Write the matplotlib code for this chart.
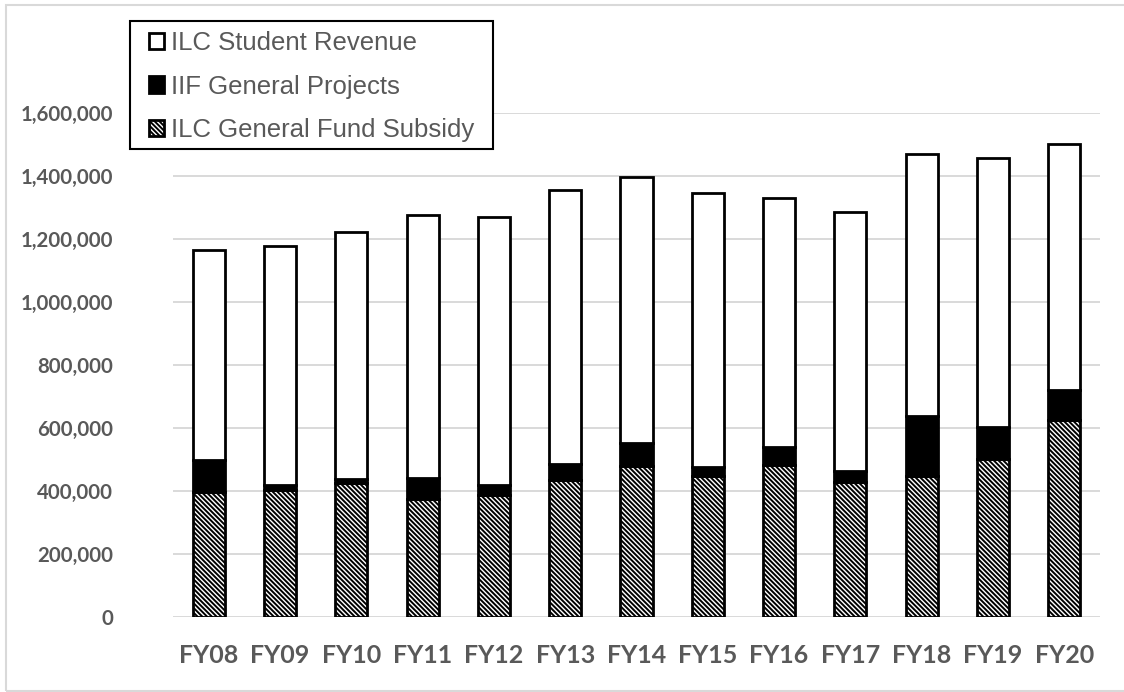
import numpy as np
import matplotlib
matplotlib.use("Agg")
import matplotlib.pyplot as plt
from matplotlib.patches import Rectangle

# values
years = ["FY08", "FY09", "FY10", "FY11", "FY12", "FY13", "FY14",
         "FY15", "FY16", "FY17", "FY18", "FY19", "FY20"]
gf_subsidy = [398000, 405000, 426000, 374000, 387000, 435000, 479000,
              450000, 484000, 431000, 449000, 503000, 625000]
iif_projects = [101000, 16000, 13000, 69000, 33000, 53000, 73000,
                28000, 58000, 32000, 191000, 101000, 98000]
student_rev = [667000, 759000, 785000, 834000, 852000, 869000, 847000,
               869000, 788000, 823000, 830000, 853000, 781000]
yticks = [0, 200000, 400000, 600000, 800000, 1000000, 1200000, 1400000, 1600000]

plt.rcParams["hatch.linewidth"] = 1.4

W, H = 1124, 692
fig = plt.figure(figsize=(W / 100, H / 100), dpi=100)
ax = fig.add_axes([173 / W, 1 - 617.3 / H, (1100 - 173) / W, (617.3 - 113.3) / H])

x = np.arange(len(years))
sub = np.array(gf_subsidy)
iif = np.array(iif_projects)
stu = np.array(student_rev)
bw = 0.45
edge = dict(edgecolor="black", linewidth=2.0, zorder=3)
hatch = "\\" * 7

b_sub = ax.bar(x, sub, bw, color="white", hatch=hatch, **edge,
               label="ILC General Fund Subsidy")
b_iif = ax.bar(x, iif, bw, bottom=sub, color="black", **edge,
               label="IIF General Projects")
b_stu = ax.bar(x, stu, bw, bottom=sub + iif, color="white", **edge,
               label="ILC Student Revenue")

ax.set_xlim(-0.5, len(years) - 0.5)
ax.set_ylim(0, 1600000)
ax.set_yticks(yticks)
ax.set_yticklabels([f"{v:,}" for v in yticks])
ax.set_xticks(x)
ax.set_xticklabels(years)
ax.grid(axis="y", color="#d9d9d9", linewidth=1.4, zorder=0)
ax.set_axisbelow(True)
for s in ax.spines.values():
    s.set_visible(False)
ax.tick_params(length=0)
ax.tick_params(axis="y", pad=43)
ax.tick_params(axis="x", pad=19)
for lab in ax.get_yticklabels():
    lab.set_fontfamily(["Lato", "DejaVu Sans"])
    lab.set_fontweight("bold")
    lab.set_fontsize(14.7)
    lab.set_color("#595959")
for lab in ax.get_xticklabels():
    lab.set_fontfamily(["Lato", "DejaVu Sans"])
    lab.set_fontweight("bold")
    lab.set_fontsize(18)
    lab.set_color("#595959")

leg = fig.legend([b_stu, b_iif, b_sub],
                 ["ILC Student Revenue", "IIF General Projects", "ILC General Fund Subsidy"],
                 loc="upper left", bbox_to_anchor=(149 / W, 1 - 31 / H),
                 prop={"family": ["Liberation Sans", "DejaVu Sans"], "size": 18.5},
                 handlelength=0.59, handleheight=0.59, handletextpad=0.25,
                 labelspacing=0.76, borderpad=0, borderaxespad=0,
                 frameon=False)
for t in leg.get_texts():
    t.set_color("#595959")

# legend box drawn at the reference position
fig.patches.append(Rectangle((130 / W, 1 - 149 / H), (493 - 130) / W, (149 - 20.7) / H,
                             transform=fig.transFigure, facecolor="white",
                             edgecolor="black", linewidth=1.5, zorder=4))
leg.set_zorder(5)

# light outer chart border
fig.patches.append(Rectangle((6 / W, 1 - 691 / H), 1.0, (691 - 5) / H,
                             transform=fig.transFigure, fill=False,
                             edgecolor="#d9d9d9", linewidth=1.5))

fig.savefig("out.png", dpi=100)
